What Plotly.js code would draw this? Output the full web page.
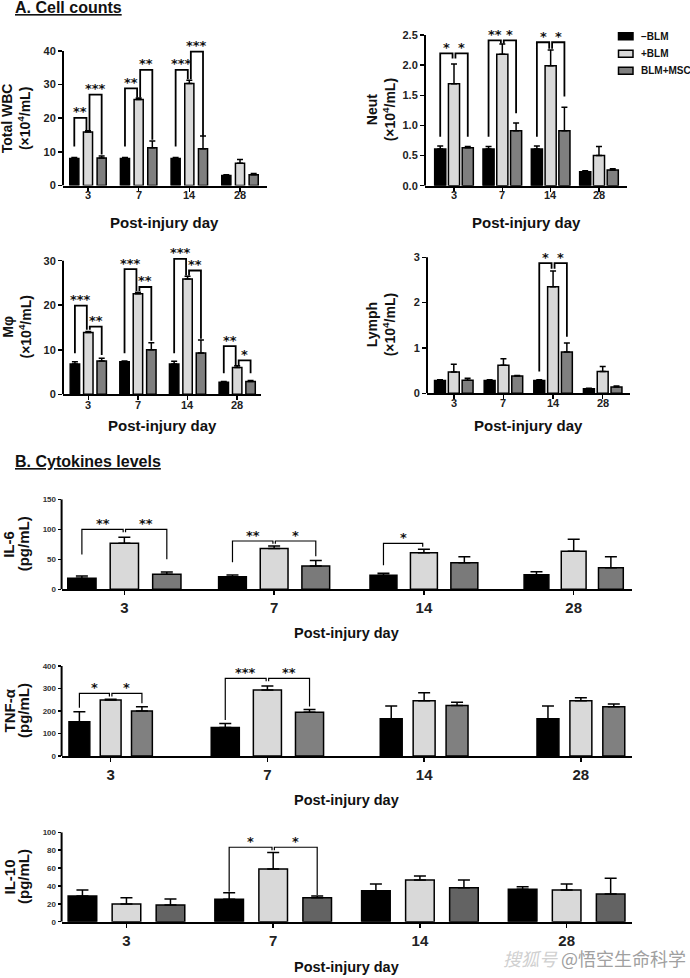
<!DOCTYPE html>
<html><head><meta charset="utf-8">
<script src="https://cdn.plot.ly/plotly-3.0.1.min.js"></script>
<style>html,body{margin:0;padding:0;background:#fff}</style>
</head><body><div id="chart" style="width:690px;height:978px"></div>
<script>
// ---------------- data ----------------
const categories = ['3', '7', '14', '28'];
const groupNames = ['−BLM', '+BLM', 'BLM+MSC'];

const wbcNeg = [8.0, 8.0, 8.0, 3.0];      const wbcNegErr = [0.3, 0.3, 0.3, 0.2];
const wbcBlm = [15.9, 25.6, 30.3, 6.6];   const wbcBlmErr = [0.4, 0.4, 1.0, 1.1];
const wbcMsc = [8.2, 11.2, 10.9, 3.2];    const wbcMscErr = [0.6, 2.0, 3.8, 0.4];

const neutNeg = [0.61, 0.61, 0.61, 0.23]; const neutNegErr = [0.05, 0.04, 0.05, 0.02];
const neutBlm = [1.69, 2.18, 1.99, 0.50]; const neutBlmErr = [0.33, 0.17, 0.26, 0.15];
const neutMsc = [0.63, 0.91, 0.91, 0.26]; const neutMscErr = [0.02, 0.13, 0.39, 0.02];

const mphNeg = [6.8, 7.3, 6.8, 2.7];      const mphNegErr = [0.5, 0.2, 0.6, 0.2];
const mphBlm = [13.9, 22.6, 25.9, 6.0];   const mphBlmErr = [0.2, 0.3, 0.6, 0.4];
const mphMsc = [7.5, 10.0, 9.3, 2.9];     const mphMscErr = [0.6, 1.6, 2.9, 0.2];

const lymNeg = [0.28, 0.28, 0.28, 0.10];  const lymNegErr = [0.02, 0.02, 0.02, 0.01];
const lymBlm = [0.47, 0.62, 2.35, 0.48];  const lymBlmErr = [0.17, 0.14, 0.35, 0.11];
const lymMsc = [0.29, 0.38, 0.91, 0.14];  const lymMscErr = [0.04, 0.01, 0.20, 0.02];

const il6Neg = [18.3, 21.0, 23.3, 24.4];  const il6NegErr = [3.7, 3.0, 3.4, 5.0];
const il6Blm = [76.7, 67.8, 61.0, 63.3];  const il6BlmErr = [10.0, 4.2, 5.7, 20.0];
const il6Msc = [25.0, 38.9, 44.4, 36.1];  const il6MscErr = [3.9, 8.9, 10.0, 18.3];

const tnfNeg = [152, 127, 166, 166];      const tnfNegErr = [45, 18, 56, 56];
const tnfBlm = [249, 293, 246, 246];      const tnfBlmErr = [3, 18, 35, 13];
const tnfMsc = [200, 194, 224, 219];      const tnfMscErr = [19, 13, 15, 12];

const il10Neg = [28.8, 25.0, 34.7, 36.3]; const il10NegErr = [6.7, 7.5, 7.5, 2.9];
const il10Blm = [19.8, 59.0, 46.7, 35.5]; const il10BlmErr = [7.1, 18.3, 4.5, 6.7];
const il10Msc = [18.7, 26.9, 38.1, 31.0]; const il10MscErr = [6.7, 1.9, 8.6, 17.6];

// significance brackets: [group, fromBar, toBar, lineY, leftEndY, rightEndY, label]
const wbcSig = [[0,0,1,20.1,11.6,16.4,'**'],[0,1,2,27.0,16.4,9.2,'***'],
                [1,0,1,28.9,11.6,26.2,'**'],[1,1,2,34.4,26.2,13.6,'**'],
                [2,0,1,34.4,11.6,31.6,'***'],[2,1,2,39.8,31.6,14.6,'***']];
const neutSig = [[0,0,1,2.195,0.81,2.11,'*'],[0,1,2,2.195,2.11,0.81,'*'],
                 [1,0,1,2.41,0.81,2.36,'**'],[1,1,2,2.41,2.36,1.2,'*'],
                 [2,0,1,2.38,0.81,2.27,'*'],[2,1,2,2.38,2.27,1.48,'*']];
const mphSig = [[0,0,1,19.9,9.2,14.5,'***'],[0,1,2,15.2,14.5,8.8,'**'],
                [1,0,1,28.1,9.2,23.2,'***'],[1,1,2,24.1,23.2,12.0,'**'],
                [2,0,1,30.4,9.2,26.7,'***'],[2,1,2,27.8,26.7,12.5,'**'],
                [3,0,1,10.8,4.7,6.4,'**'],[3,1,2,7.6,6.4,4.7,'*']];
const lymSig = [[2,0,1,2.87,0.48,2.75,'*'],[2,1,2,2.87,2.75,1.25,'*']];
const il6Sig = [[0,0,1,100,58,95,'**'],[0,1,2,100,95,50,'**'],
                [1,0,1,80.5,45,76,'**'],[1,1,2,80.5,76,55,'*'],
                [2,0,1,76.7,40,71,'*']];
const tnfSig = [[0,0,1,278.5,215,265,'*'],[0,1,2,278.5,265,235,'*'],
                [1,0,1,345,160,332,'***'],[1,1,2,345,332,220,'**']];
const il10Sig = [[1,0,1,83.3,33.6,80,'*'],[1,1,2,83.3,80,29.9,'*']];

// ---------------- layout helpers ----------------
const W = 690, H = 978;
const fx = px => px / W;
const fy = py => 1 - py / H;
const FONT = 'Liberation Sans, Arial, Helvetica, sans-serif';
const STAR = 'DejaVu Sans, sans-serif';
const colors = ['#000000', '#d9d9d9', '#7f7f7f'];

// gs = per-group width scale (style only)
const panels = [
  {x0:63, x1:266.7, yb:185.5, yt:51, top:40, ymax:46, tv:[0,10,20,30,40], xr:[-0.493,3.527], slot:0.27, bw:0.18,
   vals:[wbcNeg,wbcBlm,wbcMsc], errs:[wbcNegErr,wbcBlmErr,wbcMscErr], sig:wbcSig, small:true,
   ytitle:'Total WBC<br>(×10<sup>4</sup>/mL)', ytx:16, xty:222, xly:195},
  {x0:425, x1:627, yb:185.7, yt:35, top:2.5, ymax:2.85, tv:[0,0.5,1,1.5,2,2.5], fmt:'.1f', xr:[-0.6,3.58], slot:0.285, bw:0.23,
   vals:[neutNeg,neutBlm,neutMsc], errs:[neutNegErr,neutBlmErr,neutMscErr], sig:neutSig, small:true,
   ytitle:'Neut<br>(×10<sup>4</sup>/mL)', ytx:381, xty:222, xly:195},
  {x0:63, x1:261, yb:394.3, yt:260.7, top:30, ymax:34, tv:[0,10,20,30], xr:[-0.51,3.48], slot:0.27, bw:0.19,
   vals:[mphNeg,mphBlm,mphMsc], errs:[mphNegErr,mphBlmErr,mphMscErr], sig:mphSig, small:true,
   ytitle:'Mφ<br>(×10<sup>4</sup>/mL)', ytx:16, xty:425, xly:404.5},
  {x0:427, x1:630, yb:393.3, yt:257.3, top:3, ymax:3.3, tv:[0,1,2,3], xr:[-0.54,3.55], slot:0.278, bw:0.22,
   vals:[lymNeg,lymBlm,lymMsc], errs:[lymNegErr,lymBlmErr,lymMscErr], sig:lymSig, small:true,
   ytitle:'Lymph<br>(×10<sup>4</sup>/mL)', ytx:381, xty:425, xly:403.5},
  {x0:61.6, x1:631.5, yb:589.3, yt:499.3, top:150, ymax:150, tv:[0,50,100,150], xr:[-0.419,3.386], slot:0.27, bw:0.18,
   vals:[il6Neg,il6Blm,il6Msc], errs:[il6NegErr,il6BlmErr,il6MscErr], sig:il6Sig, small:false, dark:'#7a7a7a',
   gs:[1.05, 1.03, 1.0, 0.92], yl1:'IL-6', xty:633},
  {x0:61.6, x1:631.5, yb:756, yt:666, top:400, ymax:400, tv:[0,100,200,300,400], xr:[-0.313,3.323], slot:0.21, bw:0.14,
   vals:[tnfNeg,tnfBlm,tnfMsc], errs:[tnfNegErr,tnfBlmErr,tnfMscErr], sig:tnfSig, small:false, dark:'#808080',
   gs:[0.95, 1.28, 1.0, 1.0], yl1:'TNF-α', xty:800},
  {x0:61.6, x1:631.5, yb:921.7, yt:832.3, top:100, ymax:100, tv:[0,20,40,60,80,100], xr:[-0.442,3.442], slot:0.30, bw:0.195,
   vals:[il10Neg,il10Blm,il10Msc], errs:[il10NegErr,il10BlmErr,il10MscErr], sig:il10Sig, small:false, dark:'#636363',
   yl1:'IL-10', xty:966.7}
];

const traces = [];
const layout = {
  width: W, height: H, margin: {l:0, r:0, t:0, b:0},
  paper_bgcolor: '#fff', plot_bgcolor: 'rgba(0,0,0,0)',
  barmode: 'overlay', showlegend: false,
  font: {family: FONT, color: '#000'},
  shapes: [], annotations: []
};

panels.forEach((p, i) => {
  const n = i === 0 ? '' : String(i + 1);
  const xa = 'x' + n, ya = 'y' + n;
  const pxPerUnit = (p.yb - p.yt) / p.top;
  const domTop = p.yb - p.ymax * pxPerUnit;
  const lw = 2;
  const tickIdx = categories.map((c, k) => k);
  const gs = p.gs || categories.map(() => 1);
  layout['xaxis' + n] = {
    domain: [fx(p.x0), fx(p.x1)], anchor: ya, type: 'linear', range: p.xr,
    tickvals: tickIdx, ticktext: categories, showticklabels: !p.small,
    showline: true, linecolor: '#000', linewidth: lw, ticks: 'outside', ticklen: 4, tickwidth: 1.5, tickcolor: '#000',
    showgrid: false, zeroline: false, fixedrange: true,
    tickfont: {family: FONT, size: 15, weight: 'bold', color: '#222'}
  };
  if (p.small) {
    // category labels placed along the x scale, tight under the axis
    categories.forEach((c, k) => layout.annotations.push({xref: xa, yref: 'paper', x: k, y: fy(p.xly), text: c,
      showarrow: false, xanchor: 'center', yanchor: 'middle', font: {family: FONT, size: 11, weight: 'bold', color: '#222'}}));
  }
  layout['yaxis' + n] = {
    domain: [fy(p.yb), fy(domTop)], anchor: xa, range: [0, p.ymax],
    tickvals: p.tv, tickformat: p.fmt || '',
    showline: false, ticks: 'outside', ticklen: p.small ? 4 : 3, tickwidth: 1.5, tickcolor: '#000',
    showgrid: false, zeroline: false, fixedrange: true,
    tickfont: {family: FONT, size: p.small ? 11 : 8, weight: 'bold', color: p.small ? '#222' : '#333'}
  };
  // y axis line up to the top tick only
  layout.shapes.push({type: 'line', xref: xa + ' domain', yref: ya, x0: 0, x1: 0, y0: 0, y1: p.top,
                      line: {color: '#000', width: lw}});

  // bars
  const slotAt = g => p.slot * gs[g];
  p.vals.forEach((v, b) => {
    traces.push({
      type: 'bar', name: groupNames[b], x: tickIdx, y: v,
      xaxis: xa, yaxis: ya,
      offset: tickIdx.map(g => (b - 1) * slotAt(g) - p.bw * gs[g] / 2),
      width: tickIdx.map(g => p.bw * gs[g]),
      marker: {color: (b === 2 && p.dark) ? p.dark : colors[b], line: {color: '#000', width: 1.5}},
      error_y: {type: 'data', array: p.errs[b], arrayminus: v.map(() => 0), symmetric: false, visible: true,
                color: '#000', thickness: 1.5, width: p.small ? 3 : 6},
      hoverinfo: 'skip', showlegend: false
    });
  });

  // significance brackets
  const inner = p.small ? 0.03 : 0.008;
  p.sig.forEach(s => {
    const [g, bf, bt, yl, ylb, yrb, lab] = s;
    let xl = g + (bf - 1) * slotAt(g), xr = g + (bt - 1) * slotAt(g);
    if (bf === 1) xl += inner;
    if (bt === 1) xr -= inner;
    layout.shapes.push({type: 'path', xref: xa, yref: ya,
      path: `M ${xl},${ylb} L ${xl},${yl} L ${xr},${yl} L ${xr},${yrb}`,
      line: {color: '#000', width: p.small ? 1.8 : 1.2}});
    layout.annotations.push({xref: xa, yref: ya, x: (xl + xr) / 2, y: yl, text: lab, showarrow: false,
      xanchor: 'center', yanchor: 'middle', yshift: 6,
      font: {family: STAR, size: 13, weight: 'bold', color: '#111'}});
  });

  // x title
  layout.annotations.push({xref: 'paper', yref: 'paper', x: fx((p.x0 + p.x1) / 2), y: fy(p.xty),
    text: 'Post-injury day', showarrow: false, xanchor: 'center', yanchor: 'middle',
    font: {family: FONT, size: p.small ? 15 : 14.5, weight: 'bold', color: '#111'}});

  // y title
  const yc = (p.yb + p.yt) / 2;
  if (p.small) {
    layout.annotations.push({xref: 'paper', yref: 'paper', x: fx(p.ytx), y: fy(yc), text: p.ytitle,
      showarrow: false, textangle: -90, xanchor: 'center', yanchor: 'middle',
      font: {family: FONT, size: 14, weight: 'bold', color: '#111'}});
  } else {
    layout.annotations.push({xref: 'paper', yref: 'paper', x: fx(8.5), y: fy(yc), text: p.yl1,
      showarrow: false, textangle: -90, xanchor: 'center', yanchor: 'middle',
      font: {family: FONT, size: 15, weight: 'bold', color: '#111'}});
    layout.annotations.push({xref: 'paper', yref: 'paper', x: fx(23), y: fy(yc), text: '(pg/mL)',
      showarrow: false, textangle: -90, xanchor: 'center', yanchor: 'middle',
      font: {family: FONT, size: 15, weight: 'bold', color: '#111'}});
  }
});

// section titles
layout.annotations.push({xref: 'paper', yref: 'paper', x: fx(13), y: fy(7.5), text: '<u>A. Cell counts</u>',
  showarrow: false, xanchor: 'left', yanchor: 'middle', font: {family: FONT, size: 16, weight: 'bold', color: '#111'}});
layout.annotations.push({xref: 'paper', yref: 'paper', x: fx(13), y: fy(461.5), text: '<u>B. Cytokines levels</u>',
  showarrow: false, xanchor: 'left', yanchor: 'middle', font: {family: FONT, size: 16, weight: 'bold', color: '#111'}});

// legend (drawn in the Neut panel corner)
const legendRows = [36.3, 53.7, 70.8];
groupNames.forEach((nm, b) => {
  const yc = legendRows[b];
  layout.shapes.push({type: 'rect', xref: 'paper', yref: 'paper', x0: fx(618.5), x1: fx(633), y0: fy(yc + 3.5), y1: fy(yc - 3.5),
    fillcolor: colors[b], line: {color: '#000', width: 1.5}});
  layout.annotations.push({xref: 'paper', yref: 'paper', x: fx(638.5), y: fy(yc), text: nm,
    showarrow: false, xanchor: 'left', yanchor: 'middle', font: {family: FONT, size: 10, weight: 'bold', color: '#111'}});
});

// watermark
layout.annotations.push({xref: 'paper', yref: 'paper', x: fx(688), y: fy(958),
  text: '<i><span style="color:#d0d0d0">搜狐号</span></i> @悟空生命科学', showarrow: false,
  xanchor: 'right', yanchor: 'middle', font: {family: 'Noto Sans CJK SC, sans-serif', size: 18, color: '#a0a0a0'}});

Plotly.newPlot('chart', traces, layout, {displayModeBar: false, staticPlot: true});
</script>
</body></html>
